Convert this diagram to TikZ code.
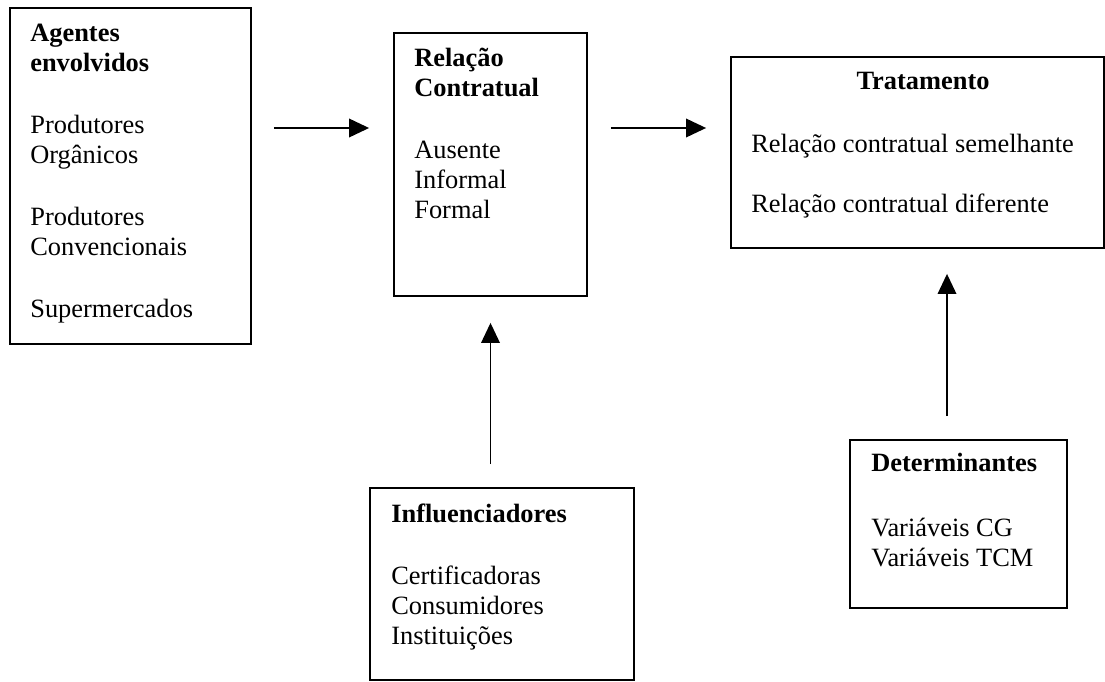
\documentclass[tikz,border=0pt]{standalone}
\usepackage{fontspec}
\setmainfont{Liberation Serif}
\usetikzlibrary{arrows.meta, positioning}
\tikzset{
  box/.style={
    rectangle, draw=black, line width=1.4pt, inner sep=0pt
  },
  txt/.style={
    align=left, inner sep=0pt, anchor=base west,
    font=\fontsize{19.8}{22.5}\selectfont
  },
  arrow/.style={line width=1pt, -{Triangle[length=15pt, width=14pt]}},
}

\begin{document}
\begin{tikzpicture}[x=0.75pt, y=-0.75pt]
  \useasboundingbox (0,0) rectangle (1105,681);

  % caixas
  \node (agentes) [box, minimum width=180.75pt, minimum height=252pt]    at (130.5,176) {};
  \node (relacao) [box, minimum width=144.75pt, minimum height=197.25pt] at (490.5,164.5) {};
  \node (trat)    [box, minimum width=279.75pt, minimum height=143.25pt] at (917.5,152.5) {};
  \node (influ)   [box, minimum width=198pt,    minimum height=144pt]    at (502,584) {};
  \node (determ)  [box, minimum width=162.75pt, minimum height=126pt]    at (958.5,524) {};

  % textos (base = ultima linha)
  \node (agtxt) [txt] at ([shift={(21,310)}]agentes.north west)
    {\textbf{Agentes}\\ \textbf{envolvidos}\\[24pt]
     Produtores\\ Orgânicos\\[24pt]
     Produtores\\ Convencionais\\[24pt]
     Supermercados};
  \node (reltxt) [txt] at ([shift={(21,186)}]relacao.north west)
    {\textbf{Relação}\\ \textbf{Contratual}\\[24pt]
     Ausente\\ Informal\\ Formal};
  \node (trattit) [txt, anchor=base] at ([shift={(5.5,33)}]trat.north)
    {\textbf{Tratamento}};
  \node (trattxt) [txt] at ([shift={(21,156)}]trat.north west)
    {Relação contratual semelhante\\[22.5pt]
     Relação contratual diferente};
  \node (inftxt) [txt] at ([shift={(22,157)}]influ.north west)
    {\textbf{Influenciadores}\\[24pt]
     Certificadoras\\ Consumidores\\ Instituições};
  \node (dettxt) [txt] at ([shift={(22,127)}]determ.north west)
    {\textbf{Determinantes}\\[26pt]
     Variáveis CG\\ Variáveis TCM};

  % setas
  \coordinate (row) at (0,128);
  \coordinate (col) at (947,0);
  \draw [arrow, shorten <=16.5pt, shorten >=18pt]     (agentes.east |- row) -- (relacao.west |- row);
  \draw [arrow, shorten <=17.25pt, shorten >=18pt]    (relacao.east |- row) -- (trat.west |- row);
  \draw [arrow, shorten <=17.25pt, shorten >=19.5pt]  (relacao.south |- influ.north) -- (relacao.south);
  \draw [arrow, shorten <=17.25pt, shorten >=18.75pt] (col |- determ.north) -- (col |- trat.south);
\end{tikzpicture}
\end{document}
